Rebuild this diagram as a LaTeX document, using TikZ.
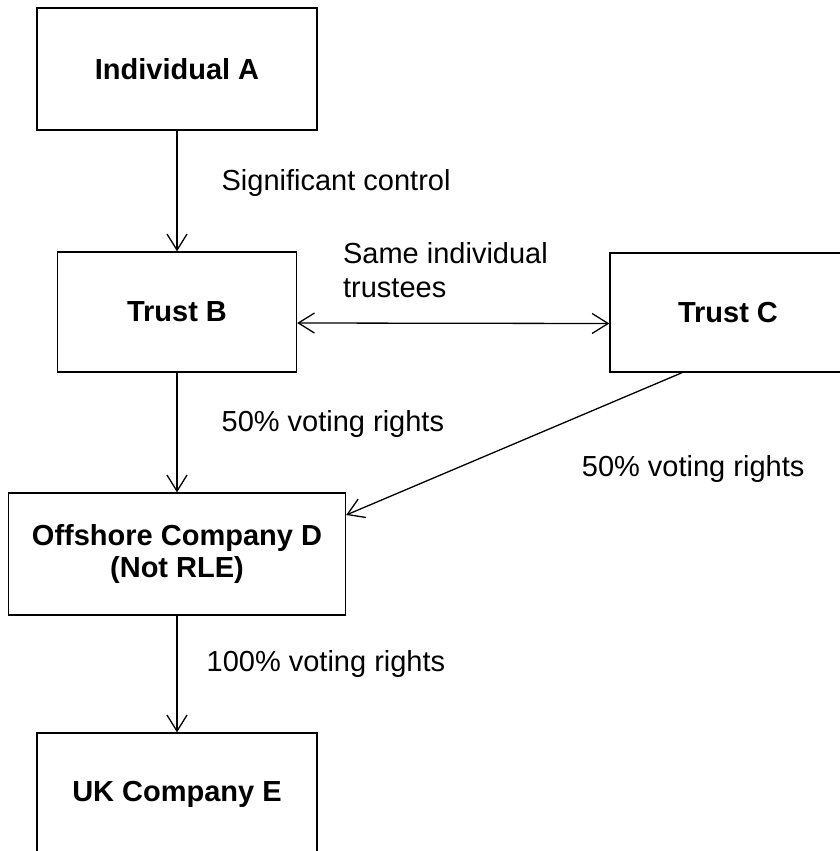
\documentclass[tikz,border=0pt]{standalone}
\usepackage{fontspec}
\setmainfont{Liberation Sans}
\usetikzlibrary{arrows.meta}

\tikzset{
	entity/.style={draw,line width=0.7pt,font=\fontsize{14.5}{16}\selectfont\bfseries,align=center,inner sep=0pt},
	holding/.style={anchor=west,inner sep=0pt,align=left}
}

\begin{document}
\begin{tikzpicture}[x=0.5pt,y=-0.5pt,>/.tip={Straight Barb[length=8pt,width=10pt,line width=0.65pt]},
	font=\fontsize{14.5}{17}\selectfont,line width=0.65pt]
	\useasboundingbox (0,0) rectangle (840,851);

	\draw (177,69) node (indA) [entity,minimum width=140pt,minimum height=61pt] {Individual A};
	\draw (177,312) node (trustB) [entity,minimum width=119.5pt,minimum height=60pt] {Trust B};
	\draw (728,312.5) node (trustC) [entity,minimum width=118pt,minimum height=59.5pt] {Trust C};
	\draw (177,554) node (offD) [entity,minimum width=168.5pt,minimum height=61pt] {Offshore Company D\\(Not RLE)};
	\draw (177,794) node (ukE) [entity,minimum width=140pt,minimum height=61pt] {UK Company E};

	\path[->] (indA) edge node [holding,pos=0.43,xshift=22pt] {Significant control} (trustB);
	\path[->] (trustB) edge node [holding,pos=0.43,xshift=22pt] {50\% voting rights} (offD);
	\path[->] (offD) edge node [holding,pos=0.41,xshift=14.5pt] {100\% voting rights} (ukE);
	\path[<->] ([yshift=-5.5pt]trustB.east) edge node [holding,pos=0.145,yshift=26.5pt] {Same individual\\trustees} ([yshift=-5.5pt]trustC.west);
	\path[->] ([xshift=-23pt]trustC.south) edge node [holding,pos=0.3,yshift=-27pt] {50\% voting rights} ([yshift=19.5pt]offD.east);
\end{tikzpicture}
\end{document}
